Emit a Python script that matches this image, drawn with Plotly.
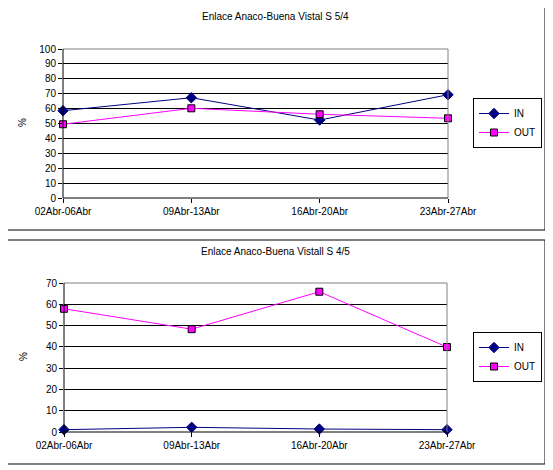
import plotly.graph_objects as go

# datos
semanas = ['02Abr-06Abr', '09Abr-13Abr', '16Abr-20Abr', '23Abr-27Abr']
in_54 = [58.6, 67.3, 52.3, 69.3]
out_54 = [49.5, 60.2, 56.2, 53.5]
in_45 = [1.1, 2.2, 1.4, 1.1]
out_45 = [57.9, 48.3, 65.9, 39.9]
titulo_54 = 'Enlace Anaco-Buena Vistal S 5/4'
titulo_45 = 'Enlace Anaco-Buena Vistall S 4/5'

W, H = 553, 470
OFF = 8  # margen del body de la pagina
FONT = 'Liberation Sans, Arial, sans-serif'
c_in = '#000080'
c_out = '#FF00FF'


def px(x):
    return (x - OFF) / W


def py(y):
    return 1 - (y - OFF) / H


fig = go.Figure()
xpos = list(range(len(semanas)))

for vin, vout, ax, leg in [(in_54, out_54, '', 'legend'),
                           (in_45, out_45, '2', 'legend2')]:
    fig.add_trace(go.Scatter(
        x=xpos, y=vin, name='IN', mode='lines+markers',
        line=dict(color=c_in, width=1),
        marker=dict(symbol='diamond', size=8, color=c_in, line=dict(color=c_in, width=1)),
        xaxis='x' + ax, yaxis='y' + ax, legend=leg, cliponaxis=False))
    fig.add_trace(go.Scatter(
        x=xpos, y=vout, name='OUT', mode='lines+markers',
        line=dict(color=c_out, width=1),
        marker=dict(symbol='square', size=7, color=c_out, line=dict(color='#000000', width=1)),
        xaxis='x' + ax, yaxis='y' + ax, legend=leg, cliponaxis=False))

xcommon = dict(range=[0, 3], tickvals=xpos, ticktext=semanas, showgrid=False,
               zeroline=False, ticks='outside', ticklen=4, tickcolor='black',
               showline=False, automargin=False,
               tickfont=dict(size=10, color='black', family=FONT))
ycommon = dict(showgrid=True, gridcolor='black', gridwidth=1, zeroline=False,
               ticks='outside', ticklen=4, tickcolor='black', showline=False,
               automargin=False,
               tickfont=dict(size=10, color='black', family=FONT))
legcommon = dict(xanchor='right', yanchor='middle', bordercolor='black',
                 borderwidth=1, bgcolor='white', itemwidth=30, tracegroupgap=0,
                 font=dict(size=10, family=FONT, color='black'))

fig.update_layout(
    template='none',
    width=W, height=H,
    margin=dict(l=0, r=0, t=0, b=0, pad=0),
    paper_bgcolor='white', plot_bgcolor='white',
    font=dict(family=FONT, size=10, color='black'),
    showlegend=True,
    xaxis=dict(domain=[px(63), px(448)], anchor='y', **xcommon),
    yaxis=dict(domain=[py(198), py(49)], anchor='x', range=[0, 100], dtick=10, **ycommon),
    xaxis2=dict(domain=[px(64), px(447)], anchor='y2', **xcommon),
    yaxis2=dict(domain=[py(432), py(283)], anchor='x2', range=[0, 70], dtick=10, **ycommon),
    legend=dict(x=px(542), y=py(123), **legcommon),
    legend2=dict(x=px(542), y=py(357), **legcommon),
)

# marcos de los graficos
for y0, y1 in [(4, 230), (240, 464)]:
    fig.add_shape(type='rect', xref='paper', yref='paper',
                  x0=px(4.5), x1=px(545), y0=py(y1), y1=py(y0),
                  line=dict(color='black', width=1), layer='below')

# bordes del area de trazado: arriba y derecha gris, izquierda y abajo negro
for ax in ['', '2']:
    xr, yr = 'x' + ax + ' domain', 'y' + ax + ' domain'
    fig.add_shape(type='line', xref=xr, yref=yr, x0=0, x1=1, y0=1, y1=1,
                  line=dict(color='#808080', width=1))
    fig.add_shape(type='line', xref=xr, yref=yr, x0=1, x1=1, y0=0, y1=1,
                  line=dict(color='#808080', width=1))
    fig.add_shape(type='line', xref=xr, yref=yr, x0=0, x1=0, y0=0, y1=1,
                  line=dict(color='black', width=1))
    fig.add_shape(type='line', xref=xr, yref=yr, x0=0, x1=1, y0=0, y1=0,
                  line=dict(color='black', width=1))

# titulos y etiqueta de eje
for texto, x, y, ang in [(titulo_54, 275, 17, 0), (titulo_45, 275, 251, 0),
                         ('%', 23, 123, -90), ('%', 23, 357, -90)]:
    fig.add_annotation(text=texto, xref='paper', yref='paper', x=px(x), y=py(y),
                       xanchor='center', yanchor='middle', showarrow=False,
                       textangle=ang, font=dict(size=10))

fig.write_html("out.html")
